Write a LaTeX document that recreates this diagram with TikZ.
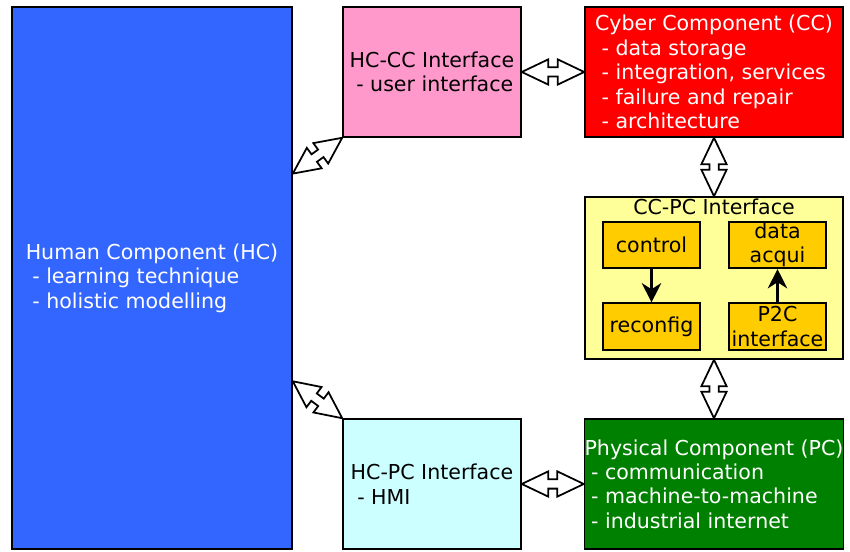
\documentclass[tikz,border=0pt]{standalone}
\usepackage{fontspec}
\setmainfont{DejaVu Sans}
\usepackage{tikz}
\usetikzlibrary{arrows.meta, positioning, shapes.arrows, calc}
\usepackage{xcolor}
\definecolor{hcblue}{RGB}{51, 102, 255}
\definecolor{ifpink}{RGB}{255, 153, 204}
\definecolor{ccred}{RGB}{255, 0, 0}
\definecolor{ifyellow}{RGB}{255, 255, 153}
\definecolor{subor}{RGB}{255, 204, 0}
\definecolor{ifcyan}{RGB}{204, 255, 255}
\definecolor{pcgreen}{RGB}{0, 128, 0}
\newcommand{\dashitem}{\hspace*{.318em}-\ }

\begin{document}
\begin{tikzpicture}[
    font=\fontsize{11.7}{13.9}\selectfont,
    comp/.style={draw=black, line width=0.9pt, align=left, inner sep=0pt},
    sub/.style={draw=black, line width=0.9pt, fill=subor, align=center, inner sep=0pt,
      minimum width=1.94cm, minimum height=0.93cm},
    link/.style={double arrow, draw=black, fill=white, line width=1pt, inner xsep=0pt,
      inner ysep=0.075cm, double arrow head extend=0.16cm, double arrow tip angle=51, sloped}
  ]
  \useasboundingbox (0,0) rectangle (17,-11.04);
  % components
  \node[comp, fill=hcblue, text=white, minimum width=5.6cm, minimum height=10.84cm] (hc) at (3.04,-5.56)
    {Human Component (HC)\\ \dashitem learning technique\\ \dashitem holistic modelling};
  \node[comp, fill=ccred, text=white, minimum width=5.16cm, minimum height=2.6cm] (cc) at (14.28,-1.44)
    {Cyber Component (CC)\\ \dashitem data storage\\ \dashitem integration, services\\ \dashitem failure and repair\\ \dashitem architecture};
  \node[comp, fill=pcgreen, text=white, minimum width=5.16cm, minimum height=2.6cm] (pc) at (14.28,-9.68)
    {Physical Component (PC)\\ \dashitem communication\\ \dashitem machine-to-machine\\ \dashitem industrial internet};
  % interfaces
  \node[comp, fill=ifpink, minimum width=3.56cm, minimum height=2.6cm] (hccc) at (8.64,-1.44)
    {HC-CC Interface\\ \dashitem user interface};
  \node[comp, fill=ifcyan, minimum width=3.56cm, minimum height=2.6cm] (hcpc) at (8.64,-9.68)
    {HC-PC Interface\\ \dashitem HMI};
  \node[comp, fill=ifyellow, minimum width=5.16cm, minimum height=3.24cm] (ccpc) at (14.28,-5.56) {};
  \node[anchor=base] (ccpctitle) at (14.28,-4.30) {CC-PC Interface};
  % inside CC-PC
  \node[sub] (ctrl) at (13.03,-4.90) {control};
  \node[sub] (dacq) at (15.55,-4.90) {data\\acqui};
  \node[sub] (recfg) at (13.03,-6.53) {reconfig};
  \node[sub] (ptoc) at (15.55,-6.53) {P2C\\interface};
  \draw[line width=1.3pt, -{Stealth[length=11pt, width=11pt, inset=3.5pt]}] (ctrl) -- (recfg);
  \draw[line width=1.3pt, -{Stealth[length=11pt, width=11pt, inset=3.5pt]}] (ptoc) -- (dacq);
  % double arrows
  \coordinate (hcup) at ($(hc.north east)!0.308!(hc.south east)$);
  \coordinate (hcdown) at ($(hc.north east)!0.690!(hc.south east)$);
  \path let \p1=($(hccc.south west)-(hcup)$) in (hcup) -- node[link, minimum height={veclen(\x1,\y1)}] {} (hccc.south west);
  \path let \p1=($(hcpc.north west)-(hcdown)$) in (hcdown) -- node[link, minimum height={veclen(\x1,\y1)}] {} (hcpc.north west);
  \path let \p1=($(cc.west)-(hccc.east)$) in (hccc.east) -- node[link, minimum height={veclen(\x1,\y1)}] {} (cc.west);
  \path let \p1=($(pc.west)-(hcpc.east)$) in (hcpc.east) -- node[link, minimum height={veclen(\x1,\y1)}] {} (pc.west);
  \path let \p1=($(ccpc.north)-(cc.south)$) in (cc.south) -- node[link, minimum height={veclen(\x1,\y1)}] {} (ccpc.north);
  \path let \p1=($(pc.north)-(ccpc.south)$) in (ccpc.south) -- node[link, minimum height={veclen(\x1,\y1)}] {} (pc.north);
\end{tikzpicture}
\end{document}
